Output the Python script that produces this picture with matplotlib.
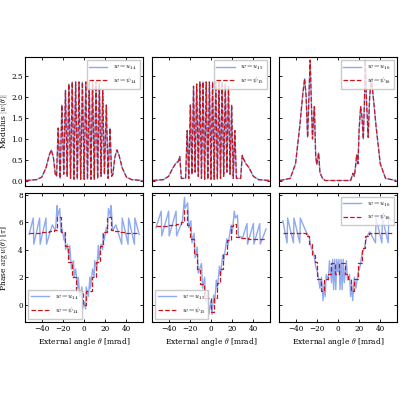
import matplotlib
matplotlib.use("Agg")
import matplotlib.pyplot as plt

plt.rcParams.update({
    "font.family": "serif", "font.serif": ["DejaVu Serif"],
    "mathtext.fontset": "cm", "font.size": 5.5,
    "xtick.labelsize": 5.2, "ytick.labelsize": 5.2,
    "xtick.direction": "in", "ytick.direction": "in",
    "xtick.top": True, "ytick.right": True,
    "xtick.major.pad": 2, "ytick.major.pad": 1.5, "axes.labelpad": 2,
})

# ---- modulus data ----
m14_x = [-55, -45, -40, -36, -33, -31, -29, -27.2, -26, -24.5, -22.6, -21, -19.2, -17.6, -16, -14.4, -12.8,
         -11.2, -9.6, -8, -6.4, -4.8, -3.2, -1.6, 0, 1.6, 3.2, 4.8, 6.4, 8, 9.6, 11.2, 12.8, 14.4, 16, 17.6,
         19.2, 21, 22.6, 24.5, 26, 27.2, 29, 31, 33, 36, 40, 45, 55]
m14_y = [0, 0.02, 0.08, 0.3, 0.6, 0.73, 0.55, 0.15, 0.1, 1.25, 0.05, 1.8, 0.15, 2.15, 0.1, 2.3, 0.05,
         2.35, 0.03, 2.35, 0.03, 2.35, 0.03, 2.35, 0.03, 2.35, 0.03, 2.35, 0.03, 2.35, 0.03, 2.35, 0.05,
         2.3, 0.1, 2.15, 0.15, 1.8, 0.05, 1.25, 0.1, 0.15, 0.55, 0.73, 0.6, 0.3, 0.08, 0.02, 0]

m15_x = [-55, -45, -40, -36, -33, -31, -29.5, -28, -24, -22.5, -21, -19.5, -18, -16.5, -15, -13.5, -12,
         -10.5, -9, -7.5, -6, -4.5, -3, -1.5, 0, 1.5, 3, 4.5, 6, 7.5, 9, 10.5, 12, 13.5, 15, 16.5, 18,
         19.5, 21, 22.5, 24, 28, 29.5, 31, 33, 36, 40, 45, 55]
m15_y = [0, 0.02, 0.1, 0.3, 0.42, 0.45, 0.57, 0.05, 0.05, 1.19, 0.05, 1.8, 0.15, 2.25, 0.2, 2.3, 0.1,
         2.35, 0.05, 2.35, 0.03, 2.35, 0.03, 2.35, 0.03, 2.35, 0.03, 2.35, 0.03, 2.35, 0.05, 2.35, 0.1,
         2.3, 0.2, 2.25, 0.15, 1.8, 0.05, 1.19, 0.05, 0.05, 0.6, 0.5, 0.4, 0.3, 0.1, 0.02, 0]

m16_x = [-55, -45, -40, -36, -33, -31.4, -30, -28.6, -27.5, -26.2, -25, -24, -23, -22.2, -21, -20, -18.2,
         -17, -16, -14.5, -12, 12, 14.2, 15.5, 16.5, 17.8, 19, 20, 21.5, 22.8, 24, 25, 25.8, 27,
         28.6, 30, 31.7, 33, 36, 40, 45, 55]
m16_y = [0, 0.05, 0.4, 1.3, 2.1, 2.43, 2.0, 1.03, 1.9, 2.87, 1.8, 0.99, 1.5, 1.76, 0.6, 0.38, 0.66,
         0.2, 0.13, 0.05, 0, 0, 0.17, 0.1, 0.3, 0.62, 0.4, 1.2, 1.76, 1.5, 0.99, 1.8, 2.87, 1.9,
         1.03, 2.0, 2.43, 2.1, 1.3, 0.4, 0.05, 0]

# ---- phase data (psi, step centres) ----
p14_x = [-52, -44, -36, -30, -27, -24, -20, -16.5, -13, -9.5, -6, -3, 0, 3, 6, 9.5, 13, 16.5, 20, 24,
         27, 30, 36, 44, 52]
p14_y = [5.25, 5.25, 5.3, 5.35, 5.45, 6.35, 5.3, 4.3, 3.1, 2.0, 1.0, 1.0, 0, 1.0, 1.0, 2.0, 3.1, 4.3,
         5.3, 6.35, 5.45, 5.35, 5.3, 5.25, 5.25]
p15_x = [-52, -44, -36, -30, -27, -24, -21, -18, -15, -12, -8.5, -5, -2, 1.2, 4, 7, 10, 13.5, 17, 20,
         22, 25, 30, 40, 52]
p15_y = [5.75, 5.75, 5.78, 5.85, 6.0, 6.86, 5.8, 4.8, 3.7, 2.6, 1.5, 0.5, 0.5, -0.5, 0.5, 1.6, 2.6,
         3.7, 4.7, 5.7, 5.85, 4.95, 4.85, 4.8, 4.75]
p16_x = [-52, -40, -32, -29, -25, -23, -21, -18, -14.5, -11, -7.7, -5.5, -3.5, -1.5, 0.5, 2.2, 5.5,
         7.7, 10.8, 14, 17, 21, 24.6, 27, 30.8, 40, 52]
p16_y = [5.23, 5.23, 5.23, 5.0, 4.44, 3.6, 3.1, 1.85, 1.0, 1.85, 2.2, 3.0, 3.0, 2.2, 2.2, 3.0, 3.0,
         2.2, 1.85, 1.0, 1.85, 3.0, 4.1, 5.0, 5.25, 5.25, 5.25]

# ---- phase data (u, raw) ----
b14_x = [-52, -48, -47.5, -42, -41.5, -36, -35.5, -30, -27, -25.5, -25, -23, -22, -21, -19, -18, -17.5,
         -16, -14, -13.5, -12, -10, -9.5, -8, -6, -5.5, -4, -2, -1.5, 0, 1.5, 2, 4, 5.5, 6, 8, 9.5,
         10, 12, 13.5, 14, 16, 17.5, 18, 19, 21, 22, 23, 25, 25.5, 27, 30, 35.5, 36, 41.5, 42, 47.5, 48, 52]
b14_y = [5.1, 6.3, 4.4, 6.3, 4.4, 6.3, 4.4, 5.8, 5.4, 7.2, 6.4, 7.0, 5.3, 5.6, 4.7, 5.2, 4.0, 4.4,
         3.3, 4.3, 2.6, 3.2, 2.0, 2.6, 1.2, 2.0, 0.6, 1.3, -0.3, 0.2, -0.3, 1.3, 0.6, 2.0, 1.2, 2.6,
         2.0, 3.2, 2.6, 4.3, 3.3, 4.4, 4.0, 5.2, 4.7, 5.6, 5.3, 7.0, 6.4, 7.2, 5.4, 5.8, 4.4, 6.3, 4.4,
         6.3, 4.4, 6.3, 5.1]
b15_x = [-52, -47, -46.5, -40, -39.5, -33, -32.5, -27, -25, -24.5, -22, -21, -19, -18, -16, -15, -13,
         -12, -9, -8, -6, -5, -3, -2, 0, 1, 2.5, 3.5, 5, 6, 8, 9, 11, 12, 15, 16, 19, 20, 22, 23, 25,
         26, 30, 34, 34.5, 40, 40.5, 46, 46.5, 52]
b15_y = [5.6, 6.8, 5.0, 6.8, 5.0, 6.8, 5.0, 6.1, 7.8, 7.0, 7.4, 5.6, 6.1, 4.5, 5.2, 3.4, 4.2, 2.3, 3.0,
         1.2, 2.0, 0.2, 1.0, -0.7, 0.3, -0.7, 0.7, 0.1, 1.8, 1.2, 2.8, 2.1, 3.6, 3.2, 4.8, 4.3, 5.8,
         5.2, 6.8, 6.3, 6.5, 4.95, 4.9, 5.9, 4.4, 5.9, 4.4, 5.9, 4.4, 5.5]
b16_x = [-52, -48, -47.5, -42, -41.5, -36, -35.5, -30, -27, -25, -23, -21, -19, -17, -15.5, -14, -13,
         -12, -11, -9, -8, -6, -5, -4, -3, -2, -1, 0, 1, 2, 3, 4, 5, 6, 8, 9, 11, 12, 13, 14, 15.5, 17,
         19, 21, 23, 25, 27, 30, 35.5, 36, 41.5, 42, 47.5, 48, 52]
b16_y = [6.1, 4.5, 6.3, 4.5, 6.3, 4.5, 6.3, 5.3, 4.9, 4.1, 3.8, 2.8, 2.3, 1.2, 2.0, 0.3, 1.5, 0.6, 2.2,
         1.8, 3.2, 1.6, 3.3, 1.1, 3.3, 1.1, 3.3, 2.4, 3.3, 1.1, 3.3, 1.1, 3.3, 1.6, 3.2, 1.8, 2.2, 0.6,
         1.5, 0.3, 2.0, 1.2, 2.3, 2.8, 3.8, 4.1, 4.9, 5.3, 4.5, 6.3, 4.5, 6.3, 4.5, 6.3, 6.1]

BLUE = "#8eaaf0"
RED = "#c8161d"
mods = [(m14_x, m14_y, "14"), (m15_x, m15_y, "15"), (m16_x, m16_y, "16")]
phases = [(b14_x, b14_y, p14_x, p14_y, "14"), (b15_x, b15_y, p15_x, p15_y, "15"),
          (b16_x, b16_y, p16_x, p16_y, "16")]

fig, axes = plt.subplots(2, 3, figsize=(4, 4), dpi=100, sharex=True)
fig.subplots_adjust(left=0.062, right=0.993, top=0.858, bottom=0.195, wspace=0.07, hspace=0.06)

leg_kw = dict(fontsize=5, handlelength=2.6, fancybox=False, edgecolor="0.75", borderpad=0.4)

for j, (x, y, n) in enumerate(mods):
    ax = axes[0, j]
    ax.plot(x, y, color=BLUE, lw=1.0, label=rf"$w = u_{{{n}}}$")
    ax.plot(x, y, color=RED, lw=0.9, ls="--", label=rf"$w = \psi_{{{n}}}$")
    ax.set_ylim(-0.12, 2.95)
    ax.set_yticks([0, 0.5, 1.0, 1.5, 2.0, 2.5])
    ax.legend(loc="upper right", **leg_kw)
    if j > 0:
        ax.set_yticklabels([])

for j, (bx, by, rx, ry, n) in enumerate(phases):
    ax = axes[1, j]
    ax.plot(bx, by, color=BLUE, lw=1.0, label=rf"$w = u_{{{n}}}$")
    ax.plot(rx, ry, color=RED, lw=0.9, ls="--", drawstyle="steps-mid", label=rf"$w = \psi_{{{n}}}$")
    ax.set_ylim(-1.25, 8.1)
    ax.set_yticks([0, 2, 4, 6, 8])
    ax.set_xlabel(r"External angle $\theta$ [mrad]")
    ax.legend(loc="upper right" if j == 2 else "lower left", **leg_kw)
    if j > 0:
        ax.set_yticklabels([])

for ax in axes.flat:
    ax.set_xlim(-56, 56)
    ax.set_xticks([-40, -20, 0, 20, 40])
    ax.tick_params(length=2.5, width=0.6)
    for s in ax.spines.values():
        s.set_linewidth(0.8)

axes[0, 0].set_ylabel(r"Modulus $|w(\theta)|$")
axes[1, 0].set_ylabel(r"Phase $\arg w(\theta)$ [$\pi$]")
axes[0, 0].yaxis.set_label_coords(-0.125, 0.5)
axes[1, 0].yaxis.set_label_coords(-0.125, 0.5)

fig.savefig("out.png", dpi=100)
